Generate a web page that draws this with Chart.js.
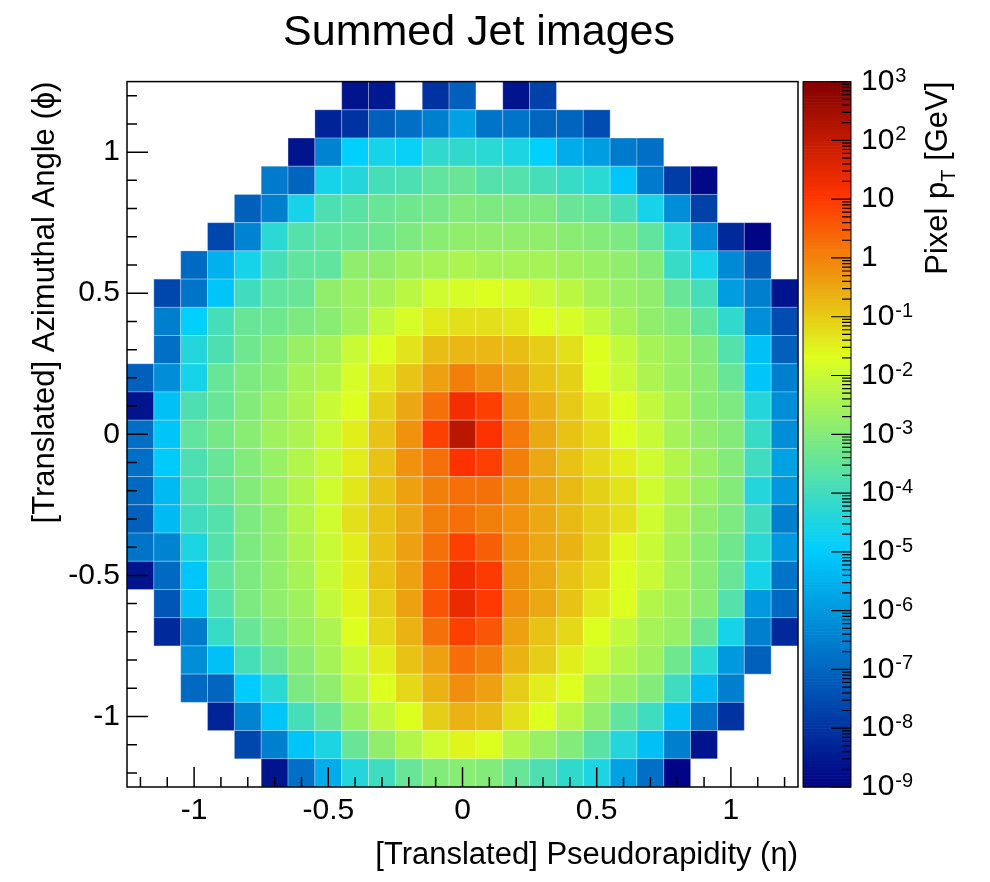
<!DOCTYPE html>
<html>
<head>
<meta charset="utf-8">
<title>Summed Jet images</title>
<script src="https://cdn.jsdelivr.net/npm/chart.js@4.4.1/dist/chart.umd.min.js"></script>
<style>
  html, body { margin: 0; padding: 0; background: #fff; }
  #wrap { width: 990px; height: 882px; position: relative; }
</style>
</head>
<body>
<div id="wrap"><canvas id="jetChart"></canvas></div>
<script>
// bin centres of the 25 x 25 jet image
const etaBins = [-1.2, -1.1, -1.0, -0.9, -0.8, -0.7, -0.6, -0.5, -0.4, -0.3, -0.2, -0.1, 0,
                 0.1, 0.2, 0.3, 0.4, 0.5, 0.6, 0.7, 0.8, 0.9, 1.0, 1.1, 1.2];
const phiBins = [1.2, 1.1, 1.0, 0.9, 0.8, 0.7, 0.6, 0.5, 0.4, 0.3, 0.2, 0.1, 0,
                 -0.1, -0.2, -0.3, -0.4, -0.5, -0.6, -0.7, -0.8, -0.9, -1.0, -1.1, -1.2];
const binWidth = 0.1;

const etaTicks = [-1, -0.5, 0, 0.5, 1];
const phiTicks = [-1, -0.5, 0, 0.5, 1];
const ptRange = [1e-9, 1e3];

// log10 of the summed pixel pT [GeV]; one row per phi bin (top row first), null = empty pixel
const N = null;
const logPt = [
  [N, N, N, N, N, N, N, N, -8.6, -8.5, N, -8.0, -7.1, N, -8.6, -7.7, N, N, N, N, N, N, N, N, N],
  [N, N, N, N, N, N, N, -8.3, -8.0, -7.1, -6.8, -6.5, -5.8, -6.7, -6.7, -7.0, -7.0, -7.5, N, N, N, N, N, N, N],
  [N, N, N, N, N, N, -8.6, -6.4, -4.9, -4.6, -4.8, -4.2, -4.2, -4.3, -4.5, -4.9, -5.6, -5.9, -6.6, -6.8, N, N, N, N, N],
  [N, N, N, N, N, -6.6, -7.0, -4.6, -4.4, -3.9, -3.8, -3.5, -3.4, -3.7, -3.7, -3.9, -4.1, -4.3, -5.1, -6.6, -7.8, -8.8, N, N, N],
  [N, N, N, N, -7.1, -6.5, -4.6, -3.8, -3.6, -3.4, -3.3, -3.2, -3.0, -3.1, -3.1, -3.1, -3.4, -3.5, -3.9, -4.6, -6.2, -7.7, N, N, N],
  [N, N, N, -7.6, -6.4, -4.3, -3.7, -3.5, -3.4, -3.3, -3.1, -2.9, -2.8, -2.8, -2.8, -2.8, -2.9, -3.0, -3.1, -3.5, -4.4, -6.2, -8.2, -8.9, N],
  [N, N, -6.9, -5.5, -4.6, -3.9, -3.5, -3.5, -2.8, -2.8, -2.6, -2.5, -2.4, -2.5, -2.5, -2.5, -2.6, -2.7, -2.8, -3.0, -4.1, -4.6, -6.3, -7.2, N],
  [N, -7.6, -6.7, -5.1, -4.0, -3.5, -3.4, -2.8, -2.6, -2.5, -2.2, -1.9, -1.8, -1.7, -1.8, -2.0, -2.2, -2.5, -2.7, -2.8, -3.4, -3.9, -5.9, -6.5, -8.6],
  [N, -6.5, -4.9, -3.9, -3.4, -3.3, -3.1, -2.9, -2.6, -2.1, -1.8, -1.4, -1.25, -1.25, -1.35, -1.7, -1.8, -2.1, -2.5, -2.8, -3.0, -3.5, -4.2, -6.2, -7.5],
  [N, -6.8, -4.4, -3.8, -3.3, -3.0, -2.7, -2.5, -2.0, -1.7, -1.3, -0.8, -0.7, -0.7, -0.8, -1.0, -1.25, -1.7, -2.1, -2.5, -2.7, -3.0, -3.7, -5.2, -7.1],
  [-7.1, -6.2, -4.6, -3.4, -3.1, -2.9, -2.5, -2.3, -1.8, -1.35, -0.9, -0.4, 0.05, -0.2, -0.5, -0.85, -1.05, -1.7, -2.0, -2.4, -2.7, -2.9, -3.4, -5.1, -6.5],
  [-8.6, -5.2, -3.8, -3.4, -3.0, -2.7, -2.4, -2.0, -1.7, -1.05, -0.5, 0.25, 1.25, 0.9, -0.1, -0.6, -0.95, -1.35, -1.7, -2.1, -2.5, -2.9, -3.1, -4.4, -6.2],
  [-6.8, -5.1, -3.5, -3.2, -2.9, -2.6, -2.4, -2.0, -1.45, -0.85, -0.2, 0.9, 2.15, 1.1, 0.15, -0.5, -0.85, -1.15, -1.7, -2.0, -2.5, -2.8, -3.0, -4.1, -6.2],
  [-6.8, -5.0, -3.8, -3.4, -3.0, -2.7, -2.3, -2.0, -1.45, -0.85, -0.2, 0.25, 1.1, 0.9, 0.05, -0.5, -0.85, -1.15, -1.45, -1.9, -2.3, -2.7, -3.0, -4.0, -5.8],
  [-6.9, -5.3, -3.8, -3.4, -3.0, -2.7, -2.3, -1.9, -1.35, -0.85, -0.4, 0.05, 0.25, 0.25, -0.15, -0.5, -0.75, -1.05, -1.3, -1.9, -2.3, -2.7, -3.0, -4.4, -6.0],
  [-7.1, -5.3, -4.0, -3.7, -3.1, -2.8, -2.3, -1.9, -1.25, -0.85, -0.5, 0.05, 0.25, 0.05, -0.2, -0.5, -0.75, -1.0, -1.25, -1.9, -2.4, -2.8, -3.1, -4.0, -6.5],
  [-6.7, -6.4, -4.5, -3.7, -3.1, -2.8, -2.4, -2.0, -1.45, -0.85, -0.4, 0.25, 0.9, 0.5, -0.15, -0.5, -0.65, -1.05, -1.6, -2.0, -2.5, -2.9, -3.3, -4.3, -6.0],
  [-8.6, -6.9, -5.1, -3.5, -3.1, -2.8, -2.5, -2.0, -1.45, -0.85, -0.4, 0.5, 1.3, 1.0, -0.15, -0.5, -0.85, -1.15, -1.7, -2.0, -2.5, -2.9, -3.4, -4.6, -6.7],
  [N, -7.3, -5.2, -3.7, -3.1, -2.8, -2.6, -2.1, -1.55, -1.0, -0.4, 0.65, 1.4, 1.0, -0.15, -0.5, -0.85, -1.35, -1.7, -2.3, -2.6, -2.9, -3.7, -6.0, -6.9],
  [N, -8.2, -6.6, -4.1, -3.4, -3.0, -2.7, -2.4, -1.7, -1.15, -0.65, 0.25, 0.9, 0.6, -0.4, -0.85, -1.15, -1.7, -2.1, -2.5, -2.7, -3.4, -4.6, -6.5, -8.2],
  [N, N, -6.2, -5.2, -3.9, -3.4, -2.9, -2.5, -2.0, -1.45, -0.85, -0.4, 0.3, 0.05, -0.65, -1.0, -1.45, -1.9, -2.3, -2.6, -3.3, -4.3, -6.0, -7.1, N],
  [N, N, -6.9, -7.0, -5.0, -4.3, -3.1, -2.8, -2.2, -1.7, -1.15, -0.65, -0.15, -0.4, -1.0, -1.45, -1.7, -2.4, -2.7, -3.0, -4.0, -5.3, -6.5, N, N],
  [N, N, N, -8.3, -6.4, -5.1, -3.9, -3.4, -2.7, -2.1, -1.7, -1.0, -0.65, -0.75, -1.25, -1.7, -2.2, -2.8, -3.5, -4.0, -5.2, -6.7, -8.0, N, N],
  [N, N, N, N, -7.6, -6.5, -5.1, -4.5, -3.4, -2.8, -2.3, -1.9, -1.55, -1.7, -2.3, -2.7, -3.0, -3.6, -4.4, -5.2, -6.5, -8.6, N, N, N],
  [N, N, N, N, N, -8.6, -6.8, -5.6, -4.4, -4.0, -3.4, -3.0, -2.9, -3.0, -3.4, -3.8, -4.2, -4.5, -5.8, -6.8, -8.9, N, N, N, N]
];

// gradient palette (navy -> cyan -> lime -> red -> dark red)
const paletteStops = [0.00, 0.34, 0.61, 0.84, 1.00];
const paletteRed   = [0.00, 0.00, 0.87, 1.00, 0.51];
const paletteGreen = [0.00, 0.81, 1.00, 0.20, 0.00];
const paletteBlue  = [0.51, 1.00, 0.12, 0.00, 0.00];

const FONT = '"Liberation Sans", Arial, Helvetica, sans-serif';
const zLo = Math.log10(ptRange[0]);
const zHi = Math.log10(ptRange[1]);

function paletteColor(logv) {
  const f = Math.min(1, Math.max(0, (logv - zLo) / (zHi - zLo)));
  let i = 0;
  while (i < paletteStops.length - 2 && f > paletteStops[i + 1]) i++;
  const t = (f - paletteStops[i]) / (paletteStops[i + 1] - paletteStops[i]);
  const mix = arr => Math.round(255 * (arr[i] + (arr[i + 1] - arr[i]) * t));
  return `rgb(${mix(paletteRed)}, ${mix(paletteGreen)}, ${mix(paletteBlue)})`;
}

const cells = [];
logPt.forEach((row, r) => {
  row.forEach((lv, c) => {
    if (lv !== null) cells.push({ x: etaBins[c], y: phiBins[r], v: Math.pow(10, lv) });
  });
});

// fills one rectangle per filled bin, using the axis scales
const heatmapCells = {
  id: 'heatmapCells',
  beforeDatasetsDraw(chart) {
    const { ctx, chartArea: a, scales: { x, y } } = chart;
    ctx.save();
    ctx.beginPath();
    ctx.rect(a.left, a.top, a.width, a.height);
    ctx.clip();
    chart.data.datasets[0].data.forEach(p => {
      const x0 = x.getPixelForValue(p.x - binWidth / 2);
      const x1 = x.getPixelForValue(p.x + binWidth / 2);
      const y0 = y.getPixelForValue(p.y + binWidth / 2);
      const y1 = y.getPixelForValue(p.y - binWidth / 2);
      ctx.fillStyle = paletteColor(Math.log10(p.v));
      ctx.fillRect(x0, y0, x1 - x0, y1 - y0);
      ctx.strokeStyle = 'rgba(255, 255, 255, 0.28)';
      ctx.lineWidth = 1;
      ctx.strokeRect(x0, y0, x1 - x0, y1 - y0);
    });
    ctx.restore();
  }
};

// frame plus inward tick marks on the left and bottom edges
const frameTicks = {
  id: 'frameTicks',
  afterDraw(chart) {
    const { ctx, chartArea: a, scales: { x, y } } = chart;
    const isMajor = (list, v) => list.some(t => Math.abs(t - v) < 1e-6);
    ctx.save();
    ctx.strokeStyle = '#000';
    ctx.lineWidth = 1.5;
    ctx.beginPath();
    etaBins.forEach(v => {
      const px = x.getPixelForValue(v);
      ctx.moveTo(px, a.bottom);
      ctx.lineTo(px, a.bottom - (isMajor(etaTicks, v) ? 20 : 10));
    });
    phiBins.forEach(v => {
      const py = y.getPixelForValue(v);
      ctx.moveTo(a.left, py);
      ctx.lineTo(a.left + (isMajor(phiTicks, v) ? 21 : 10), py);
    });
    ctx.stroke();
    ctx.strokeRect(a.left, a.top, a.width, a.height);
    ctx.restore();
  }
};

// colour scale drawn inside the space of the right-hand log axis
const colorBar = {
  id: 'colorBar',
  afterDraw(chart) {
    const { ctx } = chart;
    const z = chart.scales.zcol;
    const left = z.left + 5, right = z.left + 53;
    const steps = 240;
    ctx.save();
    for (let i = 0; i < steps; i++) {
      const lo = zLo + (zHi - zLo) * i / steps;
      const hi = zLo + (zHi - zLo) * (i + 1) / steps;
      const ya = z.getPixelForValue(Math.pow(10, lo));
      const yb = z.getPixelForValue(Math.pow(10, hi));
      ctx.fillStyle = paletteColor((lo + hi) / 2);
      ctx.fillRect(left, yb, right - left, ya - yb + 0.6);
    }
    ctx.strokeStyle = '#000';
    ctx.lineWidth = 1;
    ctx.strokeRect(left, z.top, right - left, z.bottom - z.top);

    // decade and sub-decade ticks on the right edge, pointing inwards
    ctx.lineWidth = 1.2;
    ctx.beginPath();
    for (let k = zLo; k <= zHi; k++) {
      const py = z.getPixelForValue(Math.pow(10, k));
      ctx.moveTo(right, py);
      ctx.lineTo(right - 20, py);
      if (k < zHi) {
        for (let m = 2; m <= 9; m++) {
          const pm = z.getPixelForValue(m * Math.pow(10, k));
          ctx.moveTo(right, pm);
          ctx.lineTo(right - 9, pm);
        }
      }
    }
    ctx.stroke();

    // decade labels with raised exponents
    ctx.fillStyle = '#000';
    ctx.textAlign = 'left';
    for (let k = zLo; k <= zHi; k++) {
      const py = z.getPixelForValue(Math.pow(10, k));
      const lx = right + 10;
      ctx.font = `30px ${FONT}`;
      ctx.textBaseline = 'middle';
      if (k === 0) {
        ctx.fillText('1', lx, py);
      } else if (k === 1) {
        ctx.fillText('10', lx, py);
      } else {
        ctx.fillText('10', lx, py);
        const w = ctx.measureText('10').width;
        ctx.font = `20px ${FONT}`;
        ctx.textBaseline = 'alphabetic';
        ctx.fillText(String(k), lx + w + 1, py);
      }
    }

    // rotated scale title with subscript T
    const tx = z.right - 20, ty = z.top;
    ctx.translate(tx, ty);
    ctx.rotate(-Math.PI / 2);
    ctx.textBaseline = 'middle';
    ctx.font = `31px ${FONT}`;
    const w1 = ctx.measureText('Pixel p').width;
    const w3 = ctx.measureText(' [GeV]').width;
    ctx.font = `20px ${FONT}`;
    const w2 = ctx.measureText('T').width;
    let cx = -(w1 + w2 + w3);
    ctx.font = `31px ${FONT}`;
    ctx.fillText('Pixel p', cx, 0);
    cx += w1;
    ctx.font = `20px ${FONT}`;
    ctx.fillText('T', cx, 11);
    cx += w2;
    ctx.font = `31px ${FONT}`;
    ctx.fillText(' [GeV]', cx, 0);
    ctx.restore();
  }
};

new Chart(document.getElementById('jetChart'), {
  type: 'scatter',
  data: {
    datasets: [{
      label: 'Pixel pT',
      data: cells,
      pointRadius: 0,
      pointHoverRadius: 0
    }]
  },
  options: {
    responsive: true,
    maintainAspectRatio: false,
    animation: false,
    layout: { padding: { left: 0, right: 32, top: 0, bottom: 0 } },
    plugins: {
      legend: { display: false },
      tooltip: { enabled: false },
      title: {
        display: true,
        text: 'Summed Jet images',
        color: '#000',
        font: { family: FONT, size: 43, weight: 'normal' },
        padding: { top: 7, bottom: 23 }
      }
    },
    scales: {
      x: {
        type: 'linear',
        min: -1.25,
        max: 1.25,
        afterBuildTicks: s => { s.ticks = etaTicks.map(v => ({ value: v })); },
        afterFit: s => { s.height = 95; },
        grid: { display: false, drawTicks: false },
        border: { display: false },
        ticks: {
          color: '#000',
          font: { family: FONT, size: 30 },
          padding: 6,
          maxRotation: 0,
          autoSkip: false,
          callback: v => String(v)
        },
        title: {
          display: true,
          text: '[Translated] Pseudorapidity (η)',
          align: 'end',
          color: '#000',
          font: { family: FONT, size: 31 },
          padding: { top: 0, bottom: 8 }
        }
      },
      y: {
        type: 'linear',
        min: -1.25,
        max: 1.25,
        afterBuildTicks: s => { s.ticks = phiTicks.map(v => ({ value: v })); },
        afterFit: s => { s.width = 127; },
        grid: { display: false, drawTicks: false },
        border: { display: false },
        ticks: {
          color: '#000',
          font: { family: FONT, size: 30 },
          padding: 7,
          autoSkip: false,
          callback: v => String(v)
        },
        title: {
          display: true,
          text: '[Translated] Azimuthal Angle (ϕ)',
          align: 'end',
          color: '#000',
          font: { family: FONT, size: 31 },
          padding: { top: 27, bottom: 0 }
        }
      },
      zcol: {
        type: 'logarithmic',
        axis: 'y',
        position: 'right',
        min: ptRange[0],
        max: ptRange[1],
        afterFit: s => { s.width = 160; },
        grid: { display: false, drawTicks: false },
        border: { display: false },
        ticks: { display: false }
      }
    }
  },
  plugins: [heatmapCells, frameTicks, colorBar]
});
</script>
</body>
</html>
